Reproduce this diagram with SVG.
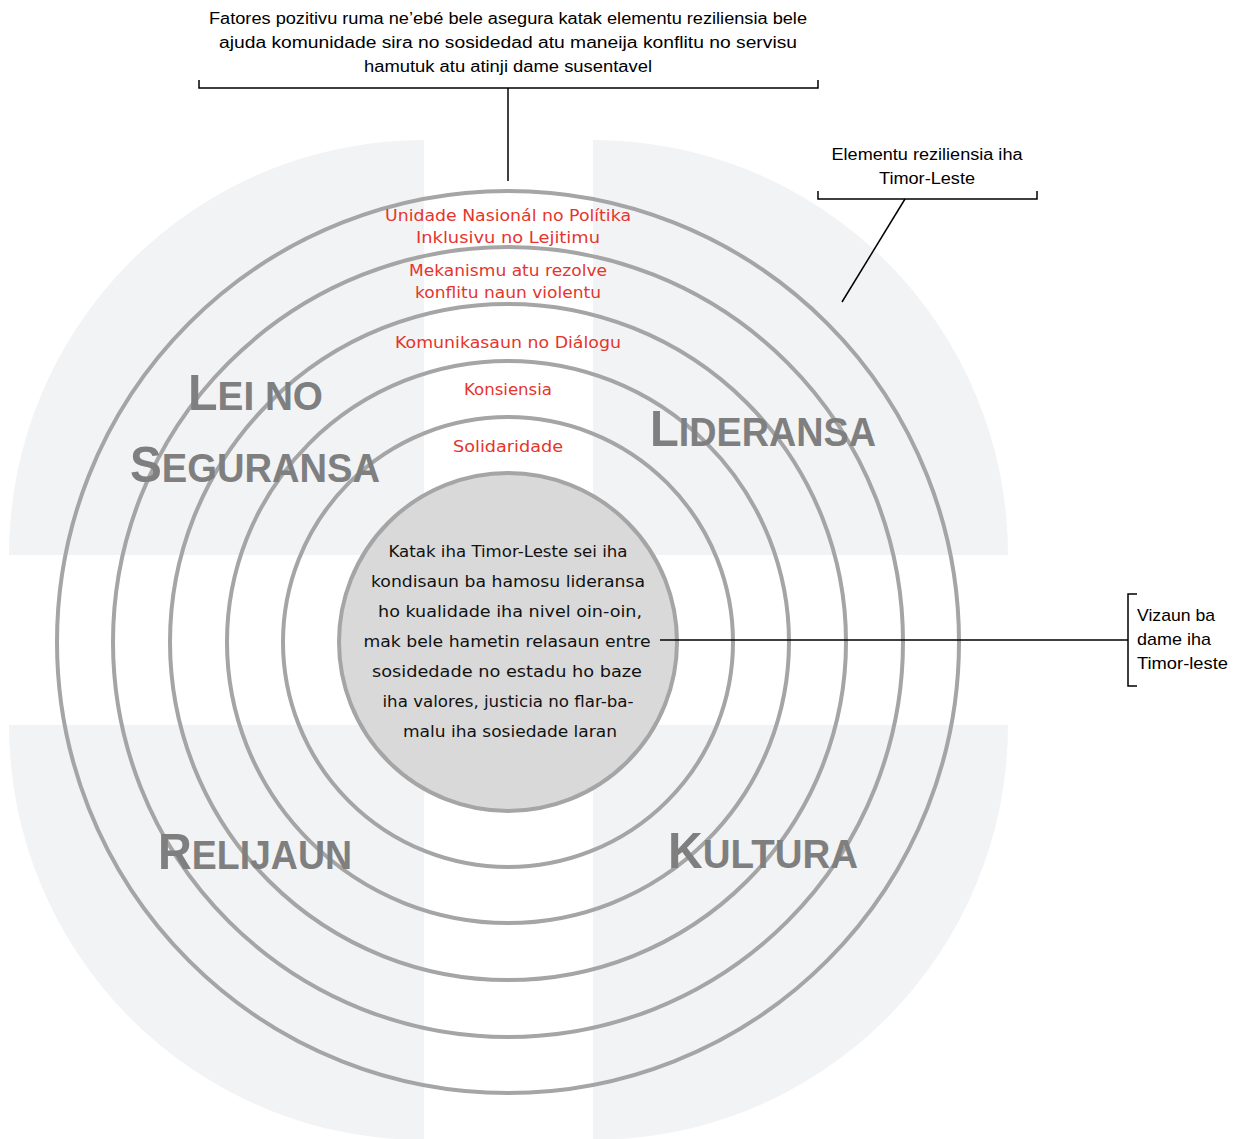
<svg xmlns="http://www.w3.org/2000/svg" width="1239" height="1139" viewBox="0 0 1239 1139">
<style>
.bg{fill:#f2f3f5;stroke:none}
.ring{fill:none;stroke:#a5a5a5;stroke-width:4}
.core{fill:#d9d9d9;stroke:#a5a5a5;stroke-width:4}
.conn{fill:none;stroke:#000;stroke-width:1.5}
.note{font-family:"Liberation Sans",Arial,sans-serif;font-size:16px;fill:#000}
.red{font-family:"DejaVu Sans","Liberation Sans",sans-serif;font-size:15.5px;fill:#e5352c;text-anchor:middle}
.ctr{font-family:"DejaVu Sans","Liberation Sans",sans-serif;font-size:16px;fill:#111;text-anchor:middle}
.quad{font-family:"Liberation Sans",Arial,sans-serif;font-weight:bold;fill:#7f7f7f}
.big{font-size:50px}
.sm{font-size:40px}
</style>
<rect width="1239" height="1139" fill="#fff"/>
<g id="background">
<path class="bg" d="M424,555 L9,555 A415,415 0 0 1 424,140 Z"/>
<path class="bg" d="M593,555 L593,140 A415,415 0 0 1 1008,555 Z"/>
<path class="bg" d="M424,725 L9,725 A415,415 0 0 0 424,1140 Z"/>
<path class="bg" d="M593,725 L1008,725 A415,415 0 0 1 593,1140 Z"/>
</g>
<g id="rings">
<circle id="ring-unidade" class="ring" cx="508" cy="642" r="451"/>
<circle id="ring-mekanismu" class="ring" cx="508" cy="642" r="395"/>
<circle id="ring-komunikasaun" class="ring" cx="508" cy="642" r="338"/>
<circle id="ring-konsiensia" class="ring" cx="508" cy="642" r="281"/>
<circle id="ring-solidaridade" class="ring" cx="508" cy="642" r="225"/>
</g>
<g id="quadrant-labels">
<g id="lei-no-seguransa">
<text class="quad" x="188" y="410" textLength="135" lengthAdjust="spacingAndGlyphs"><tspan class="big">L</tspan><tspan class="sm">EI NO</tspan></text>
<text class="quad" x="130" y="482" textLength="250" lengthAdjust="spacingAndGlyphs"><tspan class="big">S</tspan><tspan class="sm">EGURANSA</tspan></text>
</g>
<g id="lideransa">
<text class="quad" x="650" y="446" textLength="226" lengthAdjust="spacingAndGlyphs"><tspan class="big">L</tspan><tspan class="sm">IDERANSA</tspan></text>
</g>
<g id="relijaun">
<text class="quad" x="158" y="869" textLength="194" lengthAdjust="spacingAndGlyphs"><tspan class="big">R</tspan><tspan class="sm">ELIJAUN</tspan></text>
</g>
<g id="kultura">
<text class="quad" x="668" y="868" textLength="190" lengthAdjust="spacingAndGlyphs"><tspan class="big">K</tspan><tspan class="sm">ULTURA</tspan></text>
</g>
</g>
<g id="ring-labels">
<g id="label-unidade">
<text class="red" x="508" y="221" textLength="246" lengthAdjust="spacingAndGlyphs">Unidade Nasionál no Polítika</text>
<text class="red" x="508" y="243" textLength="184" lengthAdjust="spacingAndGlyphs">Inklusivu no Lejitimu</text>
</g>
<g id="label-mekanismu">
<text class="red" x="508" y="276" textLength="198" lengthAdjust="spacingAndGlyphs">Mekanismu atu rezolve</text>
<text class="red" x="508" y="298" textLength="186" lengthAdjust="spacingAndGlyphs">konflitu naun violentu</text>
</g>
<g id="label-komunikasaun">
<text class="red" x="508" y="348" textLength="226" lengthAdjust="spacingAndGlyphs">Komunikasaun no Diálogu</text>
</g>
<g id="label-konsiensia">
<text class="red" x="508" y="395" textLength="88" lengthAdjust="spacingAndGlyphs">Konsiensia</text>
</g>
<g id="label-solidaridade">
<text class="red" x="508" y="452" textLength="110" lengthAdjust="spacingAndGlyphs">Solidaridade</text>
</g>
</g>
<g id="center">
<circle class="core" cx="508" cy="642" r="169"/>
<text class="ctr" x="508" y="557" textLength="239" lengthAdjust="spacingAndGlyphs">Katak iha Timor-Leste sei iha</text>
<text class="ctr" x="508" y="587" textLength="274" lengthAdjust="spacingAndGlyphs">kondisaun ba hamosu lideransa</text>
<text class="ctr" x="510" y="617" textLength="264" lengthAdjust="spacingAndGlyphs">ho kualidade iha nivel oin-oin,</text>
<text class="ctr" x="507" y="647" textLength="287" lengthAdjust="spacingAndGlyphs">mak bele hametin relasaun entre</text>
<text class="ctr" x="507" y="677" textLength="270" lengthAdjust="spacingAndGlyphs">sosidedade no estadu ho baze</text>
<text class="ctr" x="508" y="707" textLength="251" lengthAdjust="spacingAndGlyphs">iha valores, justicia no flar-ba-</text>
<text class="ctr" x="510" y="737" textLength="214" lengthAdjust="spacingAndGlyphs">malu iha sosiedade laran</text>
</g>
<g id="connectors">
<path class="conn" d="M199,80 V88 H818 V80"/>
<path class="conn" d="M508,88 V181"/>
<path class="conn" d="M818,191 V199 H1037 V191"/>
<path class="conn" d="M905,199 L842,302"/>
<path class="conn" d="M1137,594 H1128 V686 H1137"/>
<path class="conn" d="M660,640 H1128"/>
</g>
<g id="note-top">
<text class="note" x="508" y="24" text-anchor="middle" textLength="598" lengthAdjust="spacingAndGlyphs">Fatores pozitivu ruma ne’ebé bele asegura katak elementu reziliensia bele</text>
<text class="note" x="508" y="48" text-anchor="middle" textLength="578" lengthAdjust="spacingAndGlyphs">ajuda komunidade sira no sosidedad atu maneija konflitu no servisu</text>
<text class="note" x="508" y="72" text-anchor="middle" textLength="288" lengthAdjust="spacingAndGlyphs">hamutuk atu atinji dame susentavel</text>
</g>
<g id="note-elementu">
<text class="note" x="927" y="160" text-anchor="middle" textLength="191" lengthAdjust="spacingAndGlyphs">Elementu reziliensia iha</text>
<text class="note" x="927" y="184" text-anchor="middle" textLength="96" lengthAdjust="spacingAndGlyphs">Timor-Leste</text>
</g>
<g id="note-vizaun">
<text class="note" x="1137" y="621" style="font-size:17px" textLength="78" lengthAdjust="spacingAndGlyphs">Vizaun ba</text>
<text class="note" x="1137" y="645" style="font-size:17px" textLength="74" lengthAdjust="spacingAndGlyphs">dame iha</text>
<text class="note" x="1137" y="669" style="font-size:17px" textLength="91" lengthAdjust="spacingAndGlyphs">Timor-leste</text>
</g>
</svg>
